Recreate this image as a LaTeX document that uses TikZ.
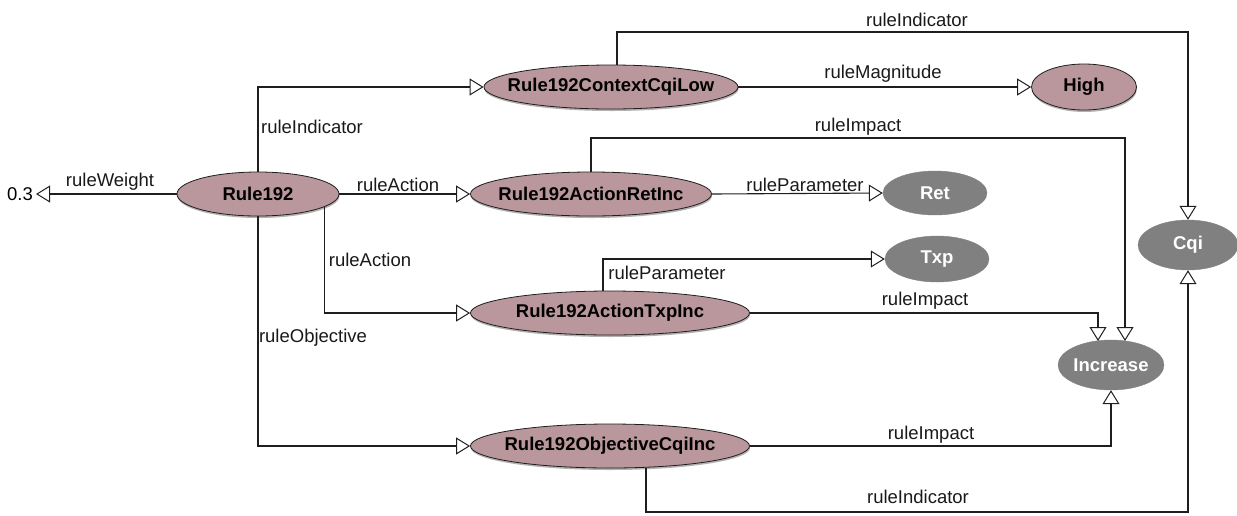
\documentclass[tikz,border=0pt]{standalone}
\usepackage{fontspec}
\setmainfont{Liberation Sans}
\usetikzlibrary{shapes.geometric,arrows.meta,shadows,calc}

\definecolor{rulefill}{RGB}{186,151,156}
\definecolor{rulegrey}{RGB}{128,128,128}
\definecolor{edgeline}{RGB}{30,30,30}

\tikzset{
  every node/.style={font=\fontsize{18.5}{21}\selectfont},
  % negative horizontal inner sep keeps the ellipse at its minimum size
  entity/.style={ellipse, inner xsep=-60pt, inner ysep=0pt, fill=rulefill, draw=edgeline, line width=0.8pt,
    font=\fontsize{18.5}{21}\selectfont\bfseries,
    drop shadow={shadow xshift=0.5pt, shadow yshift=-2pt, opacity=0.3, fill=black}},
  literal/.style={ellipse, inner xsep=-20pt, inner ysep=0pt, fill=rulegrey, draw=rulegrey, text=white,
    font=\fontsize{18.5}{21}\selectfont\bfseries},
  rel/.style={draw=edgeline, line width=1.1pt,
    -{Triangle[open, length=14pt, width=17pt, line width=1pt]}},
  lbl/.style={inner sep=0pt, text=black!90},
}

\begin{document}
\begin{tikzpicture}[x=1pt, y=-1pt]
  \useasboundingbox (0,0) rectangle (1237,515);

  % rule and its parts
  \node[entity, minimum width=162pt, minimum height=44pt] (r)   at (258,194) {Rule192};
  \node[entity, minimum width=254pt, minimum height=44pt] (ctx) at (611,87)  {Rule192ContextCqiLow};
  \node[entity, minimum width=241pt, minimum height=44pt] (ret) at (591,194) {Rule192ActionRetInc};
  \node[entity, minimum width=279pt, minimum height=44pt] (txp) at (610,313) {Rule192ActionTxpInc};
  \node[entity, minimum width=279pt, minimum height=44pt] (obj) at (610,446) {Rule192ObjectiveCqiInc};
  \node[entity, minimum width=105pt, minimum height=46pt] (high) at (1084,87) {High};

  % literal values
  \node[literal, minimum width=104pt, minimum height=44pt] (retv) at (935,193) {Ret};
  \node[literal, minimum width=104pt, minimum height=46pt] (txpv) at (937,259) {Txp};
  \node[literal, minimum width=106pt, minimum height=50pt] (inc)  at (1111,365) {Increase};
  \node[literal, minimum width=100pt, minimum height=50pt] (cqi)  at (1188,245) {Cqi};
  \node[inner sep=3pt] (w) at (20,194) {0.3};

  % routing rails and arrow entry points
  \coordinate (railTop) at (0,32);
  \coordinate (railMid) at (0,138);
  \coordinate (railLow) at (0,512);
  \coordinate (incL) at (1098,341);
  \coordinate (incR) at (1125,341);

  % connectors
  \draw[rel] (r.west) -- (w.east);
  \draw[rel] (r.north) |- (ctx.west);
  \draw[rel] (r.east) -- (ret.west);
  \draw[rel] (r.-11.3) |- (txp.west);
  \draw[rel] (r.south) |- (obj.west);
  \draw[rel] (ctx.east) -- (high.west);
  \draw[rel] ($(ctx.north)+(6,0)$) |- (railTop -| cqi.north) -- (cqi.north);
  \draw[rel] (ret.east) -- (retv.west);
  \draw[rel] (ret.north) |- (railMid -| incR) -- (incR);
  \draw[rel] ($(txp.north)+(-7,0)$) |- (txpv.west);
  \draw[rel] (txp.east) -| (incL);
  \draw[rel] (obj.east) -| (inc.south);
  \draw[rel] (obj.-31.3) |- (railLow -| cqi.south) -- (cqi.south);

  % connector labels
  \node[lbl] (l1)  at (110,182) {ruleWeight};
  \node[lbl] (l2)  at (312,127) {ruleIndicator};
  \node[lbl] (l3)  at (398,185) {ruleAction};
  \node[lbl] (l4)  at (370,260) {ruleAction};
  \node[lbl] (l5)  at (313,338) {ruleObjective};
  \node[lbl] (l6)  at (883,74)  {ruleMagnitude};
  \node[lbl] (l7)  at (917,20)  {ruleIndicator};
  \node[lbl] (l8)  at (858,127) {ruleImpact};
  \node[lbl] (l9)  at (805,185) {ruleParameter};
  \node[lbl] (l10) at (667,273) {ruleParameter};
  \node[lbl] (l11) at (925,301) {ruleImpact};
  \node[lbl] (l12) at (931,435) {ruleImpact};
  \node[lbl] (l13) at (918,497) {ruleIndicator};
\end{tikzpicture}
\end{document}
